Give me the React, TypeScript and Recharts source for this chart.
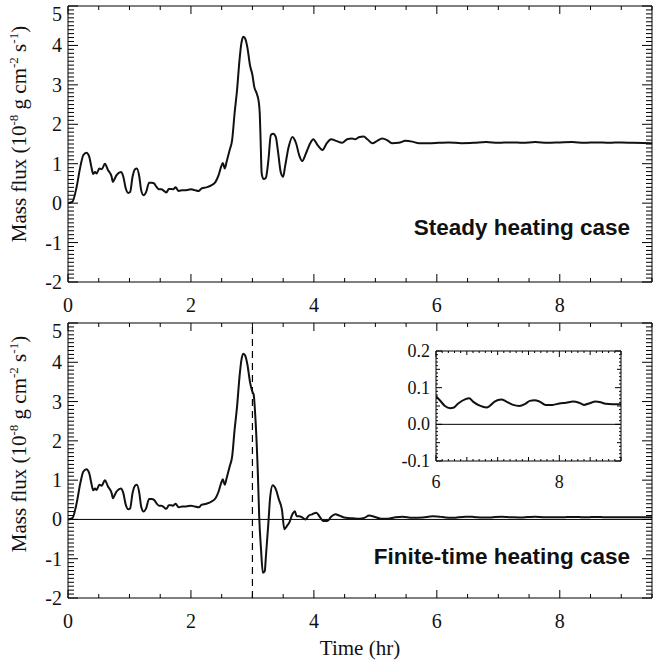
import React from "react";
import { Line, LineChart, ReferenceArea, ReferenceLine, XAxis, YAxis } from "recharts";

// mass flux (1e-8 g cm^-2 s^-1) vs time (hr); both runs share the early phase
const commonRise: [number, number][] = [
  [0, 0], [0.07, 0.03], [0.14, 0.41], [0.2, 0.92], [0.25, 1.22], [0.3, 1.28], [0.345, 1.18],
  [0.38, 0.92], [0.41, 0.74], [0.44, 0.79], [0.465, 0.75], [0.51, 0.88], [0.55, 0.86], [0.6, 1.0],
  [0.65, 0.84], [0.71, 0.67], [0.73, 0.54], [0.76, 0.62], [0.79, 0.71], [0.86, 0.79], [0.9, 0.67],
  [0.94, 0.37], [0.98, 0.26], [1.01, 0.28], [1.05, 0.67], [1.09, 0.86], [1.12, 0.88], [1.16, 0.67],
  [1.19, 0.33], [1.23, 0.2], [1.27, 0.28], [1.32, 0.52], [1.36, 0.52], [1.4, 0.5], [1.44, 0.41],
  [1.48, 0.35], [1.52, 0.35], [1.56, 0.31], [1.6, 0.27], [1.64, 0.36], [1.68, 0.36], [1.71, 0.35],
  [1.75, 0.4], [1.8, 0.31], [1.86, 0.33], [1.92, 0.33], [2.0, 0.35], [2.06, 0.33], [2.13, 0.31],
  [2.17, 0.37], [2.25, 0.4], [2.33, 0.45], [2.4, 0.54], [2.45, 0.71], [2.49, 0.92], [2.52, 1.02],
  [2.55, 0.88], [2.58, 1.05], [2.63, 1.35], [2.67, 1.6], [2.71, 2.28], [2.75, 2.87], [2.79, 3.63],
  [2.82, 4.05], [2.85, 4.22], [2.88, 4.18], [2.92, 3.93], [2.96, 3.5], [3.0, 3.25],
];

const steadyDecay: [number, number][] = [
  [3.03, 2.95], [3.07, 2.78], [3.1, 2.6], [3.12, 2.25], [3.135, 1.5], [3.15, 0.76], [3.18, 0.61],
  [3.22, 0.65], [3.26, 1.09], [3.3, 1.73], [3.34, 1.76], [3.38, 1.68], [3.42, 1.26], [3.46, 0.79],
  [3.5, 0.67], [3.53, 0.92], [3.59, 1.43], [3.65, 1.68], [3.71, 1.52], [3.76, 1.22], [3.81, 1.07],
  [3.87, 1.26], [3.94, 1.52], [3.99, 1.62], [4.06, 1.47], [4.14, 1.35], [4.21, 1.52], [4.28, 1.62],
  [4.36, 1.58], [4.46, 1.53], [4.54, 1.62], [4.62, 1.64], [4.67, 1.62], [4.73, 1.67], [4.81, 1.69],
  [4.87, 1.62], [4.95, 1.52], [5.03, 1.58], [5.11, 1.64], [5.19, 1.6], [5.27, 1.52], [5.38, 1.53],
  [5.49, 1.58], [5.6, 1.56], [5.71, 1.52], [5.87, 1.52], [6.03, 1.53], [6.19, 1.54], [6.4, 1.52],
  [6.6, 1.53], [6.8, 1.55], [7.0, 1.53], [7.2, 1.54], [7.4, 1.53], [7.6, 1.55], [7.8, 1.53],
  [8.0, 1.54], [8.2, 1.55], [8.4, 1.53], [8.6, 1.54], [8.8, 1.53], [9.0, 1.54], [9.2, 1.53], [9.5, 1.52],
];

const finiteDecay: [number, number][] = [
  [3.02, 3.18], [3.05, 2.54], [3.09, 1.1], [3.11, 0.08], [3.14, -0.76], [3.17, -1.36], [3.2, -1.32],
  [3.22, -0.93], [3.26, -0.08], [3.29, 0.59], [3.33, 0.87], [3.38, 0.77], [3.43, 0.51], [3.48, 0.25],
  [3.52, -0.25], [3.56, -0.17], [3.6, -0.08], [3.65, 0.13], [3.69, 0.21], [3.72, 0.08], [3.76, 0.08],
  [3.82, 0.04], [3.86, 0.0], [3.92, 0.1], [3.97, 0.13], [4.04, 0.17], [4.09, 0.08], [4.15, -0.04],
  [4.22, -0.04], [4.28, 0.07], [4.35, 0.13], [4.41, 0.1], [4.52, 0.04], [4.63, 0.03], [4.74, 0.02],
  [4.82, 0.04], [4.9, 0.1], [4.98, 0.07], [5.09, 0.02], [5.2, 0.02], [5.31, 0.05], [5.44, 0.07],
  [5.6, 0.04], [5.77, 0.05], [5.93, 0.08],
];

// late-time plateau, shown zoomed in the inset
const finiteLate: [number, number][] = [
  [6.0, 0.077], [6.065, 0.065], [6.145, 0.05], [6.23, 0.044], [6.28, 0.045], [6.36, 0.057],
  [6.47, 0.068], [6.54, 0.071], [6.6, 0.062], [6.71, 0.051], [6.82, 0.046], [6.87, 0.05],
  [6.95, 0.062], [7.06, 0.068], [7.14, 0.062], [7.25, 0.053], [7.35, 0.05], [7.44, 0.055],
  [7.52, 0.064], [7.6, 0.066], [7.68, 0.062], [7.78, 0.053], [7.89, 0.053], [8.0, 0.057],
  [8.11, 0.059], [8.22, 0.062], [8.32, 0.059], [8.4, 0.053], [8.48, 0.057], [8.59, 0.062],
  [8.67, 0.06], [8.75, 0.056], [8.86, 0.055], [9.0, 0.055],
];

const finiteTail: [number, number][] = [[9.25, 0.056], [9.5, 0.055]];

const mainXLabels = [0, 2, 4, 6, 8];
const insetXLabels = [6, 8];

const toRows = (pairs: [number, number][]) => pairs.map(([t, f]) => ({ t, f }));
const steadyData = toRows([...commonRise, ...steadyDecay]);
const finiteData = toRows([...commonRise, ...finiteDecay, ...finiteLate, ...finiteTail]);
const insetData = toRows(finiteLate);

const mainXTicks = Array.from({ length: 20 }, (_, i) => i * 0.5);
const mainYTicks = Array.from({ length: 71 }, (_, i) => Math.round(-20 + i) / 10);
const insetXTicks = Array.from({ length: 31 }, (_, i) => Math.round(60 + i) / 10);
const insetYTicks = Array.from({ length: 31 }, (_, i) => Math.round(-10 + i) / 100);

const SERIF = '"Liberation Serif", "Times New Roman", serif';
const SANS = '"Liberation Sans", Arial, sans-serif';
const W = 653;
const PLOT_LEFT = 68;
const PLOT_RIGHT = 652;

const near = (v: number, step: number) => Math.abs(v / step - Math.round(v / step)) < 1e-6;

function xTick(top: number, bottom: number, labels: number[], sizes: [number, number, number], font: number, gap: number) {
  return (props: any) => {
    const { x, payload } = props;
    const v = payload.value as number;
    const len = labels.includes(v) ? sizes[0] : near(v, 0.5) ? sizes[1] : sizes[2];
    return (
      <g>
        <line x1={x} x2={x} y1={bottom} y2={bottom - len} stroke="#000" />
        <line x1={x} x2={x} y1={top} y2={top + len} stroke="#000" />
        {labels.includes(v) ? (
          <text x={x} y={bottom + gap} textAnchor="middle" dominantBaseline="central" style={{ fontFamily: SERIF, fontSize: font }} fill="#111">
            {v}
          </text>
        ) : null}
      </g>
    );
  };
}

function yTick(left: number, right: number, minY: number, major: number, mid: number, sizes: [number, number, number], font: number, digits: number) {
  return (props: any) => {
    const { y, payload } = props;
    const v = payload.value as number;
    const isMajor = near(v, major);
    const len = isMajor ? sizes[0] : near(v, mid) ? sizes[1] : sizes[2];
    return (
      <g>
        <line x1={left} x2={left + len} y1={y} y2={y} stroke="#000" />
        <line x1={right - len} x2={right} y1={y} y2={y} stroke="#000" />
        {isMajor ? (
          <text x={left - 6} y={Math.max(y, minY)} textAnchor="end" dominantBaseline="central" style={{ fontFamily: SERIF, fontSize: font }} fill="#111">
            {v.toFixed(digits)}
          </text>
        ) : null}
      </g>
    );
  };
}

function FluxPanel({ data, top, height, axisHeight, finite }: { data: { t: number; f: number }[]; top: number; height: number; axisHeight: number; finite?: boolean }) {
  const plotBottom = height - axisHeight;
  return (
    <LineChart width={W} height={height} data={data} margin={{ top, right: W - PLOT_RIGHT, bottom: 0, left: 0 }}>
      <XAxis
        dataKey="t"
        type="number"
        domain={[0, 9.5]}
        allowDataOverflow
        ticks={mainXTicks}
        interval={0}
        height={axisHeight}
        axisLine={false}
        tickLine={false}
        tick={xTick(top, plotBottom, mainXLabels, [8, 4, 4], 20, 23)}
      />
      <YAxis
        type="number"
        domain={[-2, 5]}
        allowDataOverflow
        ticks={mainYTicks}
        interval={0}
        width={PLOT_LEFT}
        axisLine={false}
        tickLine={false}
        tick={yTick(PLOT_LEFT, PLOT_RIGHT, top + 8, 1, 0.5, [10, 6, 6], 20, 0)}
      />
      <ReferenceArea x1={0} x2={9.5} y1={-2} y2={5} fill="none" stroke="#000" strokeWidth={1} ifOverflow="visible" />
      {finite ? <ReferenceLine y={0} stroke="#000" strokeWidth={1} /> : null}
      {finite ? <ReferenceLine x={3} stroke="#000" strokeWidth={1.2} strokeDasharray="7 5" /> : null}
      <Line type="monotone" dataKey="f" stroke="#111" strokeWidth={2} dot={false} isAnimationActive={false} />
    </LineChart>
  );
}

function FluxTitle({ cx, cy }: { cx: number; cy: number }) {
  const sup = { fontSize: 13 };
  return (
    <text transform={`translate(${cx},${cy}) rotate(-90)`} textAnchor="middle" style={{ fontFamily: SERIF, fontSize: 21 }} fill="#111">
      Mass flux (10<tspan dy={-8} style={sup}>-8</tspan>
      <tspan dy={8}> g cm</tspan>
      <tspan dy={-8} style={sup}>-2</tspan>
      <tspan dy={8}> s</tspan>
      <tspan dy={-8} style={sup}>-1</tspan>
      <tspan dy={8}>)</tspan>
    </text>
  );
}

export default function App() {
  return (
    <div style={{ position: "absolute", left: 0, top: 0, width: W, height: 662, background: "#fff" }}>
      <div style={{ position: "absolute", left: 0, top: 0 }}>
        <FluxPanel data={steadyData} top={6} height={320} axisHeight={38} />
      </div>
      <div style={{ position: "absolute", left: 0, top: 310 }}>
        <FluxPanel data={finiteData} top={13} height={352} axisHeight={64} finite />
      </div>
      <div style={{ position: "absolute", left: 380, top: 340 }}>
        <LineChart width={245} height={156} data={insetData} margin={{ top: 11, right: 4, bottom: 0, left: 0 }}>
          <XAxis
            dataKey="t"
            type="number"
            domain={[6, 9]}
            allowDataOverflow
            ticks={insetXTicks}
            interval={0}
            height={35}
            axisLine={false}
            tickLine={false}
            tick={xTick(11, 121, insetXLabels, [6, 4, 2], 18, 21)}
          />
          <YAxis
            type="number"
            domain={[-0.1, 0.2]}
            allowDataOverflow
            ticks={insetYTicks}
            interval={0}
            width={56}
            axisLine={false}
            tickLine={false}
            tick={yTick(56, 241, 0, 0.1, 0.05, [6, 4, 2], 18, 1)}
          />
          <ReferenceArea x1={6} x2={9} y1={-0.1} y2={0.2} fill="none" stroke="#000" strokeWidth={1} ifOverflow="visible" />
          <ReferenceLine y={0} stroke="#000" strokeWidth={1} />
          <Line type="monotone" dataKey="f" stroke="#111" strokeWidth={2} dot={false} isAnimationActive={false} />
        </LineChart>
      </div>
      <svg width={W} height={662} style={{ position: "absolute", left: 0, top: 0, pointerEvents: "none" }}>
        <FluxTitle cx={26} cy={134} />
        <FluxTitle cx={26} cy={444} />
        <text x={360} y={648} textAnchor="middle" dominantBaseline="central" style={{ fontFamily: SERIF, fontSize: 21 }} fill="#111">
          Time (hr)
        </text>
        <text x={630} y={227} textAnchor="end" dominantBaseline="central" style={{ fontFamily: SANS, fontWeight: "bold", fontSize: 22.5 }} fill="#111">
          Steady heating case
        </text>
        <text x={630} y={556} textAnchor="end" dominantBaseline="central" style={{ fontFamily: SANS, fontWeight: "bold", fontSize: 22.5 }} fill="#111">
          Finite-time heating case
        </text>
      </svg>
    </div>
  );
}
